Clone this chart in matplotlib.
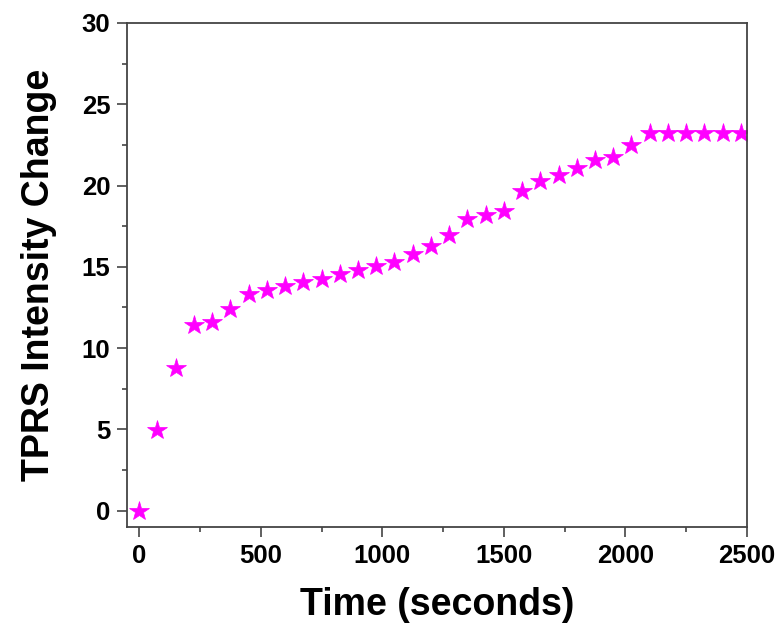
import matplotlib
matplotlib.use("Agg")
import matplotlib.pyplot as plt
from matplotlib.ticker import MultipleLocator

time_s = [0, 75, 150, 225, 300, 375, 450, 525, 600, 675, 750, 825,
          900, 975, 1050, 1125, 1200, 1275, 1350, 1425, 1500, 1575,
          1650, 1725, 1800, 1875, 1950, 2025, 2100, 2175, 2250, 2325,
          2400, 2475]
intensity_change = [0.0, 4.95, 8.76, 11.43, 11.63, 12.39, 13.33, 13.55,
                    13.83, 14.07, 14.26, 14.55, 14.8, 15.05, 15.3, 15.79,
                    16.28, 16.97, 17.95, 18.2, 18.42, 19.65, 20.26, 20.65,
                    21.07, 21.54, 21.78, 22.5, 23.22, 23.22, 23.22, 23.22,
                    23.22, 23.22]

plt.rcParams["font.family"] = ["Liberation Sans", "DejaVu Sans"]
plt.rcParams["font.weight"] = "bold"

fig = plt.figure(figsize=(7.83, 6.33), dpi=100)
ax = fig.add_axes([0.1622, 0.1675, 0.7918, 0.7963])

ax.plot(time_s, intensity_change, linestyle="none", marker="*",
        markersize=15, color="#ff00ff", markeredgewidth=0.5)

ax.set_xlim(-50, 2500)
ax.set_ylim(-1, 30)
ax.xaxis.set_major_locator(MultipleLocator(500))
ax.xaxis.set_minor_locator(MultipleLocator(250))
ax.yaxis.set_major_locator(MultipleLocator(5))
ax.yaxis.set_minor_locator(MultipleLocator(2.5))

axis_color = "#444444"
for side in ax.spines.values():
    side.set_linewidth(1.3)
    side.set_color(axis_color)

ax.tick_params(which="major", direction="out", length=7, width=1.2,
               color=axis_color, labelsize=18.5, pad=5)
ax.tick_params(which="minor", direction="out", length=3.6, width=1.2,
               color=axis_color)
for lab in ax.get_xticklabels() + ax.get_yticklabels():
    lab.set_fontweight("bold")

ax.set_xlabel("Time (seconds)", fontsize=27, fontweight="bold", labelpad=14)
ax.set_ylabel("TPRS Intensity Change", fontsize=27, fontweight="bold", labelpad=18)

fig.savefig("out.png", dpi=100)
